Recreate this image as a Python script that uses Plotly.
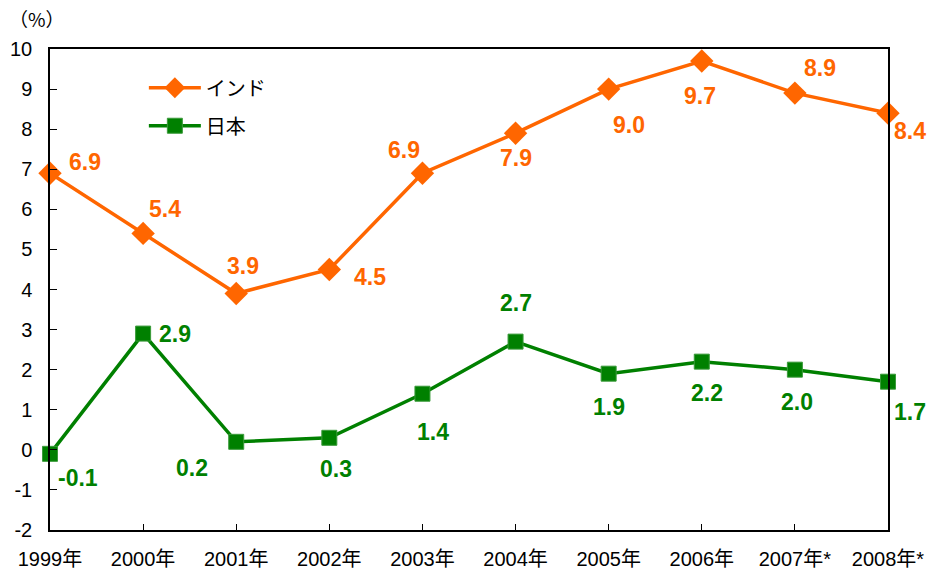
import plotly.graph_objects as go

years = ["1999年", "2000年", "2001年", "2002年", "2003年", "2004年", "2005年", "2006年", "2007年*", "2008年*"]
india = [6.9, 5.4, 3.9, 4.5, 6.9, 7.9, 9.0, 9.7, 8.9, 8.4]
japan = [-0.1, 2.9, 0.2, 0.3, 1.4, 2.7, 1.9, 2.2, 2.0, 1.7]
india_labels = ["6.9", "5.4", "3.9", "4.5", "6.9", "7.9", "9.0", "9.7", "8.9", "8.4"]
japan_labels = ["-0.1", "2.9", "0.2", "0.3", "1.4", "2.7", "1.9", "2.2", "2.0", "1.7"]
y_ticks = [-2, -1, 0, 1, 2, 3, 4, 5, 6, 7, 8, 9, 10]
y_tick_text = ["-2", "-1", "0", "1", "2", "3", "4", "5", "6", "7", "8", "9", "10"]

# label offsets (px) relative to each point
india_off = [(35, 11), (22, 24), (7, 28), (41, -8), (-18, 23), (0, -25), (20, -36), (-2, -35), (25, 25), (22, -18)]
japan_off = [(28, -24), (32, 0), (-44, -26), (7, -31), (11, -38), (0, 39), (0, -33), (5, -31), (2, -32), (22, -30)]

ORANGE = "#FF6600"
GREEN = "#008000"
FONT = "Liberation Sans, Arial, Noto Sans CJK JP, sans-serif"

x = list(range(len(years)))

fig = go.Figure()
fig.add_trace(go.Scatter(x=x, y=india, name="インド", mode="lines+markers",
                         legendgroup="a",
                         line=dict(color=ORANGE, width=3.5),
                         marker=dict(symbol="diamond", size=18, color=ORANGE),
                         cliponaxis=False))
fig.add_trace(go.Scatter(x=x, y=japan, name="日本", mode="lines+markers",
                         legendgroup="b",
                         line=dict(color=GREEN, width=3.5),
                         marker=dict(symbol="square", size=15, color=GREEN,
                                     line=dict(color="#3a9a3a", width=1)),
                         cliponaxis=False))

for xi, yi, t, (dx, dy) in zip(x, india, india_labels, india_off):
    fig.add_annotation(x=xi, y=yi, text=t, showarrow=False, xshift=dx, yshift=dy,
                       font=dict(family=FONT, size=23, color=ORANGE, weight="bold"))
for xi, yi, t, (dx, dy) in zip(x, japan, japan_labels, japan_off):
    fig.add_annotation(x=xi, y=yi, text=t, showarrow=False, xshift=dx, yshift=dy,
                       font=dict(family=FONT, size=23, color=GREEN, weight="bold"))

fig.add_annotation(xref="paper", yref="paper", x=0, y=1.0, xshift=-13, yshift=31, text="（%）",
                   showarrow=False, xanchor="center", yanchor="middle",
                   font=dict(family="Noto Sans CJK JP, sans-serif", size=19, color="black"))

fig.update_xaxes(range=[0, 9], tickvals=x, ticktext=years, showgrid=False, zeroline=False,
                 showline=True, linecolor="black", linewidth=1.5, mirror=True,
                 ticks="inside", ticklen=6, tickcolor="black", automargin=False,
                 ticklabelstandoff=10,
                 tickfont=dict(family=FONT, size=20, color="black"))
fig.update_yaxes(range=[-2, 10], tickvals=y_ticks, ticktext=y_tick_text, showgrid=False, zeroline=False,
                 showline=True, linecolor="black", linewidth=1.5, mirror=True,
                 ticks="inside", ticklen=7, tickcolor="black", automargin=False,
                 ticklabelstandoff=12,
                 tickfont=dict(family=FONT, size=20, color="black"))

fig.update_layout(width=929, height=572, margin=dict(l=50, r=41, t=49, b=42),
                  plot_bgcolor="white", paper_bgcolor="white",
                  showlegend=True,
                  legend=dict(x=0.112, y=0.96, xanchor="left", yanchor="top",
                              traceorder="grouped", tracegroupgap=9,
                              bgcolor="rgba(0,0,0,0)", itemwidth=52,
                              font=dict(family=FONT, size=20, color="black")))

fig.write_html("out.html", config={"displayModeBar": False},
               post_script="document.body.style.margin='0';document.body.style.overflow='hidden';")
